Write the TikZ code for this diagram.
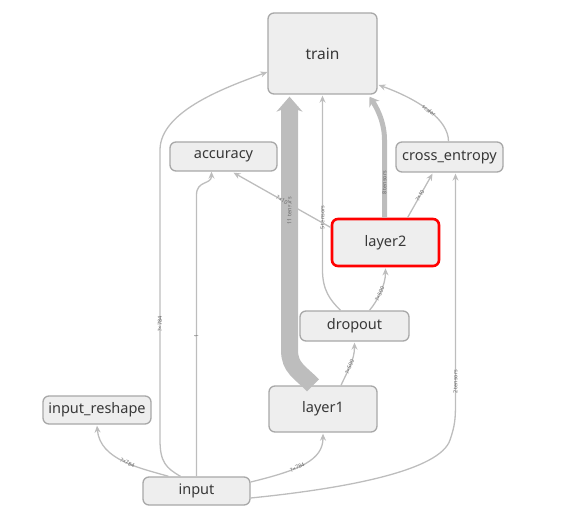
\documentclass[tikz,border=0pt]{standalone}
\usepackage{fontspec}
\setmainfont{Noto Sans}
\usetikzlibrary{arrows.meta}
\definecolor{nodefill}{HTML}{EEEEEE}
\definecolor{nodeline}{HTML}{A8A8A8}
\definecolor{edgecol}{HTML}{BDBDBD}
\definecolor{lblcol}{HTML}{666666}
\definecolor{txtcol}{HTML}{383838}
\begin{document}
\begin{tikzpicture}[x=1pt,y=-1pt,
 op/.style={draw=nodeline, fill=nodefill, rounded corners=6pt, line width=1.3pt,
   font=\fontsize{14.5}{16}\selectfont, text=txtcol, inner sep=0pt},
 flow/.style={draw=edgecol, line width=1.3pt, -{Stealth[length=7pt,width=6pt]}},
 lab/.style={font=\fontsize{5.5}{6}\selectfont, text=lblcol, sloped, inner sep=0.4pt}]
\useasboundingbox (0,0) rectangle (561,529);
% nodes
\node[op, minimum width=109pt, minimum height=81pt, font=\fontsize{15.5}{18}\selectfont] (train) at (322.5,53.5) {train};
\node[op, minimum width=107pt, minimum height=29pt] (accuracy) at (223.5,156.5) {accuracy};
\node[op, minimum width=107pt, minimum height=30pt] (xent) at (449.5,157) {cross\_entropy};
\node[op, minimum width=107pt, minimum height=47pt, draw=red, line width=2.6pt] (layer2) at (385.5,242.5) {layer2};
\node[op, minimum width=109pt, minimum height=30pt] (dropout) at (354.5,326) {dropout};
\node[op, minimum width=108pt, minimum height=46pt] (layer1) at (323,409) {layer1};
\node[op, minimum width=108pt, minimum height=28pt] (reshape) at (97,410) {input\_reshape};
\node[op, minimum width=107pt, minimum height=28pt] (input) at (196.5,491) {input};
% edges from input
\draw[flow] ([xshift=-16pt]input.north) .. controls (166,468) and (160,462) .. (160,440)
  -- node[lab, pos=0.4] {?×784} (160,150) .. controls (160,110) and (230,86) .. ([yshift=-18.5pt]train.west);
\draw[flow] (input.north) -- node[lab, pos=0.5] {1} (196.5,195) .. controls (196.5,180) and (211.5,185) .. ([xshift=-12pt]accuracy.south);
\draw[flow] ([xshift=-28pt]input.north) .. controls (140,468) and (100,460) .. node[lab, pos=0.45] {?×784} ([yshift=-1pt]reshape.south);
\draw[flow] ([yshift=9pt]input.east) .. controls (300,470) and (323,460) .. node[lab, pos=0.4] {?×784} ([yshift=-1pt]layer1.south);
\draw[flow] ([yshift=-7pt]input.east) .. controls (350,488) and (440,470) .. (450,440)
  .. controls (455,425) and (455.5,420) .. (455.5,400) -- node[lab, pos=0.08] {2 tensors} ([xshift=6pt,yshift=-1pt]xent.south);
% thick edges to train
\draw[draw=edgecol, line width=17pt, -{Stealth[length=15pt,width=26pt]}]
  ([xshift=-10pt]layer1.north) .. controls (300,372) and (289.5,368) .. (289.5,350)
  -- node[lab, pos=0.55] {11 tensors} ([xshift=-33pt,yshift=-2pt]train.south);
\draw[draw=edgecol, line width=5pt, -{Stealth[length=9pt,width=12pt]}]
  ([xshift=-1pt]layer2.north) -- node[lab, pos=0.45] {8 tensors} (384.5,140)
  .. controls (384.5,120) and (375,105) .. ([xshift=47pt,yshift=-2pt]train.south);
\draw[flow] ([xshift=-14pt]dropout.north) .. controls (330,300) and (322.5,290) .. (322.5,270)
  -- node[lab, pos=0.3] {5 tensors} ([yshift=-1pt]train.south);
% other edges
\draw[flow] ([xshift=18pt]layer1.north) .. controls (348,370) and (354.5,360) .. node[lab, pos=0.45] {?×500} ([yshift=-1pt]dropout.south);
\draw[flow] ([xshift=15pt]dropout.north) .. controls (378,300) and (385.5,285) .. node[lab, pos=0.45] {?×500} ([yshift=-1pt]layer2.south);
\draw[flow] ([yshift=15pt]layer2.west) -- node[lab, pos=0.5] {?×10} ([xshift=10pt,yshift=-1pt]accuracy.south);
\draw[flow] ([xshift=22pt]layer2.north) -- node[lab, pos=0.5] {?×10} ([xshift=-17pt,yshift=-1pt]xent.south);
\draw[flow] ([xshift=-1pt]xent.north) .. controls (448.5,120) and (420,100) .. node[lab, pos=0.5] {scalar} ([xshift=1pt,yshift=-31.5pt]train.east);
\end{tikzpicture}
\end{document}
